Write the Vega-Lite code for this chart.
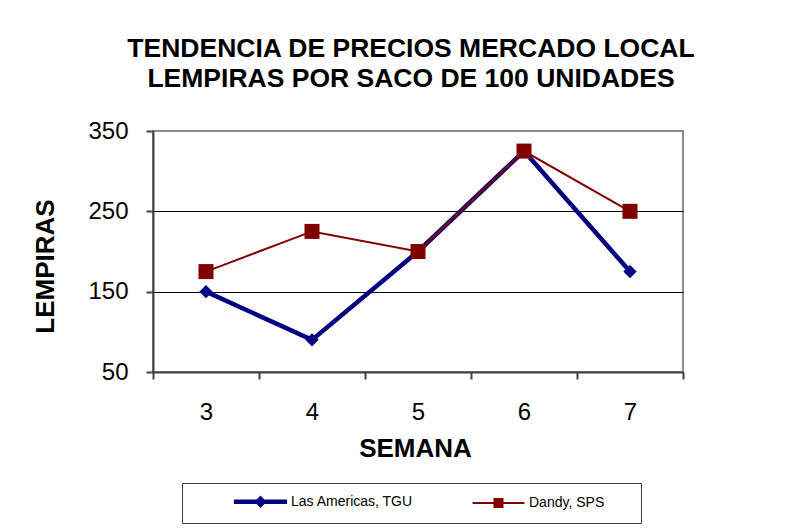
{
  "$schema": "https://vega.github.io/schema/vega-lite/v6.json",
  "width": 530,
  "height": 241,
  "autosize": "none",
  "padding": {"left": 153, "top": 131, "right": 102, "bottom": 160},
  "background": "white",
  "config": {
    "font": "Liberation Sans",
    "view": {"stroke": "#8c8c8c", "strokeWidth": 2}
  },
  "title": {
    "text": ["TENDENCIA DE PRECIOS MERCADO LOCAL", "LEMPIRAS POR SACO DE 100 UNIDADES"],
    "font": "Liberation Sans",
    "fontSize": 26.5,
    "fontWeight": "bold",
    "color": "black",
    "lineHeight": 30,
    "anchor": "middle",
    "dx": -7,
    "offset": 27
  },
  "data": {
    "values": [
      {"semana": "3", "serie": "Las Americas, TGU", "precio": 150},
      {"semana": "4", "serie": "Las Americas, TGU", "precio": 90},
      {"semana": "5", "serie": "Las Americas, TGU", "precio": 200},
      {"semana": "6", "serie": "Las Americas, TGU", "precio": 325},
      {"semana": "7", "serie": "Las Americas, TGU", "precio": 175},
      {"semana": "3", "serie": "Dandy, SPS", "precio": 175},
      {"semana": "4", "serie": "Dandy, SPS", "precio": 225},
      {"semana": "5", "serie": "Dandy, SPS", "precio": 200},
      {"semana": "6", "serie": "Dandy, SPS", "precio": 325},
      {"semana": "7", "serie": "Dandy, SPS", "precio": 250}
    ]
  },
  "encoding": {
    "x": {
      "field": "semana",
      "type": "ordinal",
      "scale": {"paddingInner": 0, "paddingOuter": 0},
      "axis": {
        "title": "SEMANA",
        "labelAngle": 0,
        "labelFont": "Liberation Sans",
        "labelFontSize": 24,
        "labelColor": "black",
        "labelPadding": 21,
        "tickBand": "extent",
        "tickSize": 7,
        "tickColor": "#404040",
        "tickWidth": 2,
        "domainColor": "#404040",
        "domainWidth": 2,
        "titleFont": "Liberation Sans",
        "titleFontSize": 26,
        "titleFontWeight": "bold",
        "titleColor": "black",
        "titleX": 262,
        "titleY": 84,
        "titleBaseline": "alphabetic",
        "titleAlign": "center"
      }
    },
    "y": {
      "field": "precio",
      "type": "quantitative",
      "scale": {"domain": [50, 350], "nice": false},
      "axis": {
        "title": "LEMPIRAS",
        "values": [50, 150, 250, 350],
        "labelFont": "Liberation Sans",
        "labelFontSize": 24,
        "labelColor": "black",
        "labelPadding": 18,
        "tickSize": 7,
        "tickColor": "#404040",
        "tickWidth": 2,
        "domainColor": "#404040",
        "domainWidth": 2,
        "grid": true,
        "gridColor": {"condition": {"test": "datum.value == 350", "value": "#8c8c8c"}, "value": "black"},
        "gridWidth": 1,
        "titleFont": "Liberation Sans",
        "titleFontSize": 26,
        "titleFontWeight": "bold",
        "titleColor": "black",
        "titleAngle": 270,
        "titleX": -100,
        "titleY": 135,
        "titleBaseline": "alphabetic",
        "titleAlign": "center"
      }
    }
  },
  "layer": [
    {
      "mark": {"type": "line"},
      "encoding": {
        "color": {
          "field": "serie",
          "type": "nominal",
          "scale": {"domain": ["Las Americas, TGU", "Dandy, SPS"], "range": ["#000080", "#800000"]},
          "legend": {
            "title": "\u00a0",
            "titleOrient": "right",
            "titlePadding": 28,
            "titleFontSize": 14,
            "orient": "none",
            "legendX": 29,
            "legendY": 352,
            "direction": "horizontal",
            "columns": 2,
            "padding": 9,
            "strokeColor": "#404040",
            "fillColor": "white",
            "symbolType": "M-3.8,0H3.8M0,-0.43L0.43,0L0,0.43L-0.43,0Z",
            "symbolSize": 196,
            "symbolOffset": 60,
            "columnPadding": 15,
            "labelOffset": 21,
            "labelFont": "Liberation Sans",
            "labelFontSize": 14,
            "labelColor": "black",
            "encode": {
              "symbols": {
                "update": {
                  "shape": {"signal": "datum.value == 'Las Americas, TGU' ? 'M-3.8,0H3.8M0,-0.43L0.43,0L0,0.43L-0.43,0Z' : 'M-3.7,0H3.7M-0.57,-0.57H0.57V0.57H-0.57Z'"},
                  "fill": {"signal": "datum.value == 'Las Americas, TGU' ? '#000080' : '#800000'"},
                  "strokeWidth": {"signal": "datum.value == 'Las Americas, TGU' ? 3 : 2"},
                  "fillOpacity": {"value": 1}
                }
              }
            }
          }
        },
        "strokeWidth": {
          "field": "serie",
          "type": "nominal",
          "scale": {"domain": ["Las Americas, TGU", "Dandy, SPS"], "range": [4.5, 2]},
          "legend": null
        }
      }
    },
    {
      "transform": [{"filter": "datum.serie == 'Las Americas, TGU'"}],
      "mark": {"type": "point", "filled": true, "opacity": 1, "strokeWidth": 0, "shape": "diamond", "size": 180, "color": "#000080"}
    },
    {
      "transform": [{"filter": "datum.serie == 'Dandy, SPS'"}],
      "mark": {"type": "point", "filled": true, "opacity": 1, "strokeWidth": 0, "shape": "square", "size": 225, "color": "#800000"}
    }
  ]
}
